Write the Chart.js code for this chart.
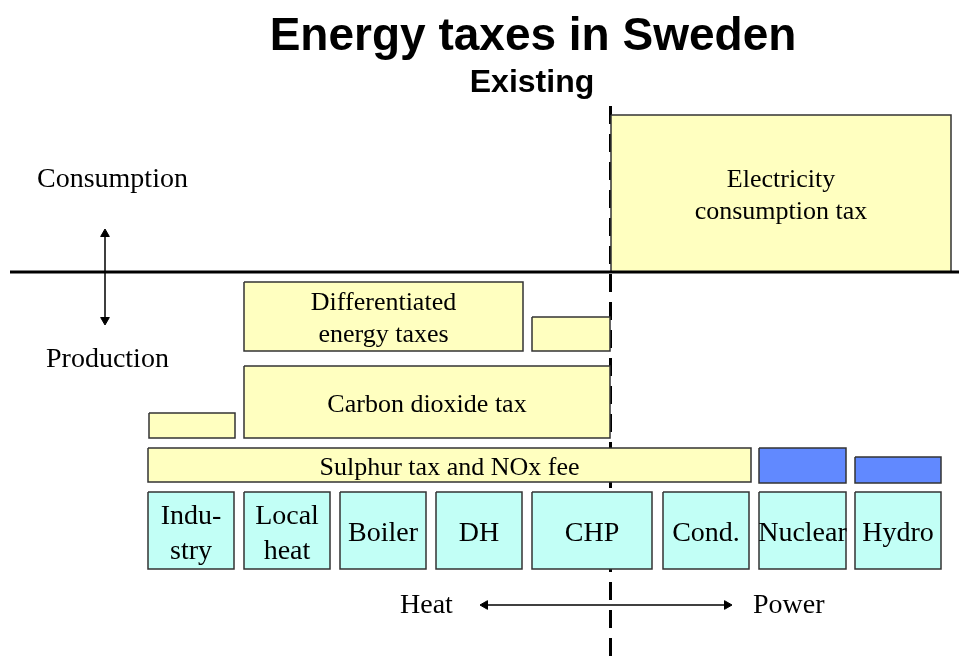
<!DOCTYPE html>
<html>
<head>
<meta charset="utf-8">
<title>Energy taxes in Sweden</title>
<script src="https://cdn.jsdelivr.net/npm/chart.js@4/dist/chart.umd.min.js"></script>
<style>
  body { margin: 0; background: #ffffff; }
  #wrap { width: 959px; height: 657px; }
</style>
</head>
<body>
<div id="wrap"><canvas id="diagram" width="959" height="657"></canvas></div>
<script>
// Titolo
var titleText = "Energy taxes in Sweden";
var subtitleText = "Existing";

// Tasse (riquadri gialli) - estensione in unita' dello schema
var taxNames = ["Electricity\nconsumption tax", "Differentiated\nenergy taxes", "", "Carbon dioxide tax", "", "Sulphur tax and NOx fee"];
var taxFrom = [611, 244, 532, 244, 149, 148];
var taxTo = [951, 523, 610, 610, 235, 751];
var taxTop = [115, 282, 317, 366, 413, 448];
var taxBottom = [272, 351, 351, 438, 438, 482];

// Riquadri blu sopra nucleare e idro
var powerFrom = [759, 855];
var powerTo = [846, 941];
var powerTop = [448, 457];
var powerBottom = [483, 483];

// Tecnologie (riquadri azzurri)
var techNames = ["Indu-\nstry", "Local\nheat", "Boiler", "DH", "CHP", "Cond.", "Nuclear", "Hydro"];
var techFrom = [148, 244, 340, 436, 532, 663, 759, 855];
var techTo = [234, 330, 426, 522, 652, 749, 846, 941];
var techTop = 492;
var techBottom = 569;

// Linee di riferimento
var axisLevel = 272;
var axisFrom = 10, axisTo = 959;
var divider = 610.5;
var dividerFrom = 106, dividerTo = 657;

// Frecce
var vArrowX = 105, vArrowTop = 229, vArrowBottom = 325;
var hArrowY = 605, hArrowLeft = 480, hArrowRight = 732;

// Etichette libere
var sideLabels = ["Consumption", "Production", "Heat", "Power"];

var colors = {
    tax: "#FFFFC0",
    power: "#6189FF",
    tech: "#C2FFF6",
    edge: "#333333",
    ink: "#000000"
};

function boxData(x0, x1, y0, y1) {
    return [{ x: x0, y: y0 }, { x: x1, y: y0 }, { x: x1, y: y1 }, { x: x0, y: y1 }, { x: x0, y: y0 }];
}

function boxDataset(x0, x1, y0, y1, fillColor) {
    return {
        data: boxData(x0, x1, y0, y1),
        showLine: true,
        fill: "shape",
        backgroundColor: fillColor,
        borderColor: colors.edge,
        borderWidth: 1.5,
        borderJoinStyle: "miter",
        pointRadius: 0,
        tension: 0,
        order: 5
    };
}

var datasets = [];

// linea tratteggiata (sotto ai riquadri)
datasets.push({
    data: [{ x: divider, y: dividerFrom }, { x: divider, y: dividerTo }],
    showLine: true, borderColor: colors.ink, borderWidth: 3, borderDash: [18, 10],
    pointRadius: 0, order: 10
});

taxNames.forEach(function (n, i) {
    datasets.push(boxDataset(taxFrom[i], taxTo[i], taxTop[i], taxBottom[i], colors.tax));
});
powerFrom.forEach(function (v, i) {
    datasets.push(boxDataset(powerFrom[i], powerTo[i], powerTop[i], powerBottom[i], colors.power));
});
techNames.forEach(function (n, i) {
    datasets.push(boxDataset(techFrom[i], techTo[i], techTop, techBottom, colors.tech));
});

// asse consumo / produzione
datasets.push({
    data: [{ x: axisFrom, y: axisLevel }, { x: axisTo, y: axisLevel }],
    showLine: true, borderColor: colors.ink, borderWidth: 3, pointRadius: 0, order: 3
});

// freccia verticale
datasets.push({
    data: [{ x: vArrowX, y: vArrowTop + 5 }, { x: vArrowX, y: vArrowBottom - 5 }],
    showLine: true, borderColor: colors.ink, borderWidth: 1.5,
    pointStyle: "triangle", pointRadius: 5, pointRotation: [0, 180],
    pointBackgroundColor: colors.ink, pointBorderColor: colors.ink, pointBorderWidth: 1,
    order: 1
});

// freccia orizzontale Heat <-> Power
datasets.push({
    data: [{ x: hArrowLeft + 5, y: hArrowY }, { x: hArrowRight - 5, y: hArrowY }],
    showLine: true, borderColor: colors.ink, borderWidth: 1.5,
    pointStyle: "triangle", pointRadius: 5, pointRotation: [270, 90],
    pointBackgroundColor: colors.ink, pointBorderColor: colors.ink, pointBorderWidth: 1,
    order: 1
});

// Scritte: titoli, etichette dei riquadri, etichette laterali
var labelsPlugin = {
    id: "labels",
    afterDatasetsDraw: function (chart) {
        var ctx = chart.ctx;
        var sx = chart.scales.x, sy = chart.scales.y;
        var serif = "'Liberation Serif', 'Times New Roman', serif";
        var sans = "'Liberation Sans', Arial, sans-serif";

        function multi(text, x0, x1, y0, y1, size, lh, off) {
            var lines = text.split("\n");
            var cx = (sx.getPixelForValue(x0) + sx.getPixelForValue(x1)) / 2;
            var cy = (sy.getPixelForValue(y0) + sy.getPixelForValue(y1)) / 2;
            ctx.font = size + "px " + serif;
            ctx.textAlign = "center";
            lines.forEach(function (l, i) {
                ctx.fillText(l, cx, cy + off + (i - (lines.length - 1) / 2) * lh);
            });
        }

        ctx.save();
        ctx.fillStyle = colors.ink;
        ctx.textBaseline = "alphabetic";

        ctx.textAlign = "center";
        ctx.font = "bold 46px " + sans;
        ctx.fillText(titleText, sx.getPixelForValue(533), sy.getPixelForValue(50));
        ctx.font = "bold 32px " + sans;
        ctx.fillText(subtitleText, sx.getPixelForValue(532), sy.getPixelForValue(92));

        taxNames.forEach(function (n, i) {
            if (n) multi(n, taxFrom[i], taxTo[i], taxTop[i], taxBottom[i], 26, 32, 9.5);
        });
        techNames.forEach(function (n, i) {
            multi(n, techFrom[i], techTo[i], techTop, techBottom, 28, 35, 10.5);
        });

        ctx.textAlign = "left";
        ctx.font = "28px " + serif;
        ctx.fillText(sideLabels[0], sx.getPixelForValue(37), sy.getPixelForValue(187));
        ctx.fillText(sideLabels[1], sx.getPixelForValue(46), sy.getPixelForValue(367));
        ctx.fillText(sideLabels[2], sx.getPixelForValue(400), sy.getPixelForValue(613));
        ctx.fillText(sideLabels[3], sx.getPixelForValue(753), sy.getPixelForValue(613));
        ctx.restore();
    }
};

new Chart(document.getElementById("diagram").getContext("2d"), {
    type: "scatter",
    data: { datasets: datasets },
    options: {
        responsive: false,
        animation: false,
        devicePixelRatio: 1,
        events: [],
        layout: { padding: 0, autoPadding: false },
        plugins: { legend: { display: false }, tooltip: { enabled: false } },
        scales: {
            x: { type: "linear", min: 0, max: 959, display: false },
            y: { type: "linear", min: 0, max: 657, reverse: true, display: false }
        }
    },
    plugins: [labelsPlugin]
});
</script>
</body>
</html>
